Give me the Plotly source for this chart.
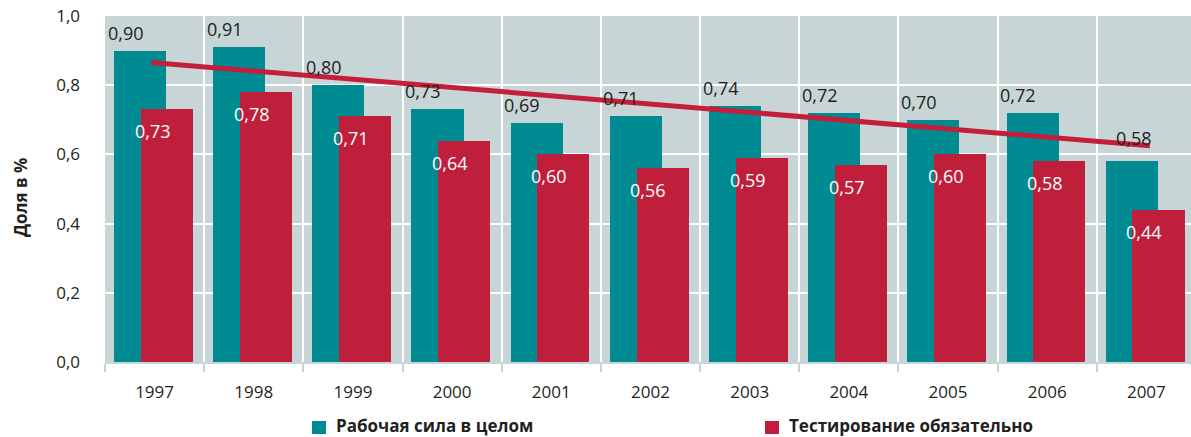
import numpy as np
import plotly.graph_objects as go

# Data
years = ["1997", "1998", "1999", "2000", "2001", "2002", "2003", "2004", "2005", "2006", "2007"]
workforce = [0.90, 0.91, 0.80, 0.73, 0.69, 0.71, 0.74, 0.72, 0.70, 0.72, 0.58]
mandatory = [0.73, 0.78, 0.71, 0.64, 0.60, 0.56, 0.59, 0.57, 0.60, 0.58, 0.44]
y_ticks = [0.0, 0.2, 0.4, 0.6, 0.8, 1.0]
legend_names = ["Рабочая сила в целом", "Тестирование обязательно"]
y_title = "Доля в %"

TEAL = "#008B92"
RED = "#C01F3C"
BG = "#C8D5D6"
TXT = "#231F20"
FONT = "Open Sans"

def fmt(v):
    return f"{v:.2f}".replace(".", ",")

xs = np.arange(len(years))
BAR_W = 0.525

fig = go.Figure()
fig.add_trace(go.Bar(x=xs, y=workforce, width=BAR_W, offset=-0.41,
                     marker=dict(color=TEAL, line=dict(width=0)),
                     name=legend_names[0], showlegend=False, hoverinfo="skip"))
fig.add_trace(go.Bar(x=xs, y=mandatory, width=BAR_W, offset=-0.14,
                     marker=dict(color=RED, line=dict(width=0)),
                     name=legend_names[1], showlegend=False, hoverinfo="skip"))

# Linear trend of the workforce series
slope, intercept = np.polyfit(xs, workforce, 1)
tx = np.array([-0.035, len(years) - 1 + 0.035])
fig.add_trace(go.Scatter(x=tx, y=slope * tx + intercept, mode="lines",
                         line=dict(color="#C41E3A", width=5),
                         showlegend=False, hoverinfo="skip"))

annotations = []
for i, v in enumerate(workforce):
    dx, dy = (-29, 18) if i < len(years) - 1 else (-12, 23)
    annotations.append(dict(x=i, y=v, text=fmt(v), showarrow=False,
                            xshift=dx, yshift=dy,
                            font=dict(family=FONT, size=18, color=TXT)))
for i, v in enumerate(mandatory):
    annotations.append(dict(x=i, y=v, text=fmt(v), showarrow=False,
                            xshift=-2, yshift=-22,
                            font=dict(family=FONT, size=18, color="white")))

# Y axis title
annotations.append(dict(xref="paper", yref="paper", x=-0.0783, y=0.5, xanchor="center",
                        yanchor="middle", text=f"<b>{y_title}</b>", textangle=-90,
                        showarrow=False, yshift=-8,
                        font=dict(family=FONT, size=17, color=TXT)))

# Custom legend
legend_items = [(legend_names[0], TEAL, 312), (legend_names[1], RED, 765)]
shapes = []
for name, col, px in legend_items:
    shapes.append(dict(type="rect", xref="paper", yref="paper",
                       x0=(px - 105) / 1086, x1=(px + 14 - 105) / 1086,
                       y0=(362 - 434) / 346, y1=(362 - 421) / 346,
                       fillcolor=col, line=dict(width=0)))
    annotations.append(dict(xref="paper", yref="paper", x=(px + 23 - 105) / 1086,
                            y=(362 - 426) / 346, xanchor="left", yanchor="middle",
                            text=f"<b>{name}</b>", showarrow=False, borderpad=0,
                            font=dict(family=FONT, size=17, color=TXT)))

fig.update_layout(
    width=1191, height=437,
    margin=dict(l=105, r=0, t=16, b=75),
    paper_bgcolor="white", plot_bgcolor=BG,
    barmode="overlay", bargap=0,
    separators=", ",
    font=dict(family=FONT, size=17, color=TXT),
    annotations=annotations, shapes=shapes,
    xaxis=dict(range=[-0.5, len(years) - 0.55], tickvals=list(xs), ticktext=years,
               showgrid=False, zeroline=False, ticks="", ticklabelstandoff=14,
               tickfont=dict(family=FONT, size=17, color=TXT),
               minor=dict(tickvals=[i - 0.5 for i in range(len(years) + 1)],
                          showgrid=True, gridcolor="white", gridwidth=2,
                          ticks="outside", ticklen=8, tickcolor=BG, tickwidth=2),
               showline=True, linecolor=BG, linewidth=2, fixedrange=True),
    yaxis=dict(range=[0, 1.0], tickvals=y_ticks, tickformat=".1f",
               showgrid=True, gridcolor="white", gridwidth=2, zeroline=False,
               ticks="", ticklabelstandoff=24,
               tickfont=dict(family=FONT, size=17, color=TXT), fixedrange=True),
)

fig.write_html("out.html")
